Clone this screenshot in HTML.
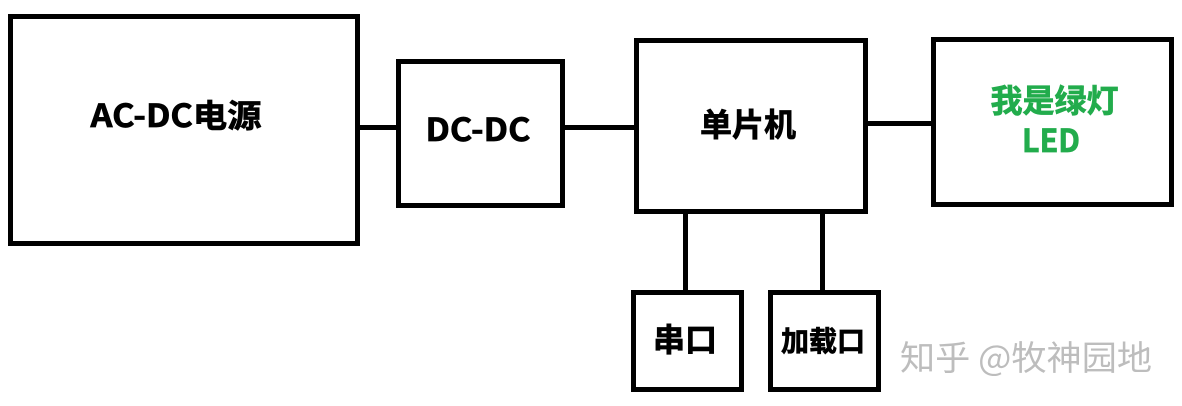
<!DOCTYPE html>
<html>
<head>
<meta charset="utf-8">
<style>
html,body{margin:0;padding:0;background:#fff;}
body{width:1182px;height:406px;overflow:hidden;position:relative;}
svg{display:block;position:absolute;left:0;top:0;}
text{font-family:"Noto Sans CJK SC","Liberation Sans",sans-serif;font-weight:700;text-anchor:middle;}
.h{stroke-width:0.7px;}
</style>
</head>
<body>
<svg width="1182" height="406" viewBox="0 0 1182 406" xmlns="http://www.w3.org/2000/svg">
<g fill="#fff" stroke="#000" stroke-width="5">
<rect x="10.5" y="16.5" width="347" height="227"/>
<rect x="398.5" y="61.5" width="164" height="144"/>
<rect x="636.5" y="40.5" width="229" height="171"/>
<rect x="933.5" y="39.5" width="238" height="165"/>
<rect x="633.5" y="292.5" width="108" height="97"/>
<rect x="770.5" y="292.5" width="108" height="97"/>
</g>
<g stroke="#000" stroke-width="5" fill="none">
<line x1="360" y1="127.5" x2="396" y2="127.5"/>
<line x1="565" y1="127.5" x2="634" y2="127.5"/>
<line x1="868" y1="123.5" x2="931" y2="123.5"/>
<line x1="685.5" y1="214" x2="685.5" y2="290"/>
<line x1="822.5" y1="214" x2="822.5" y2="290"/>
</g>
<text class="h" stroke="#000" x="176" y="127" font-size="32" fill="#000" textLength="171" lengthAdjust="spacingAndGlyphs">AC-DC电源</text>
<text class="h" stroke="#000" x="478" y="141" font-size="32" fill="#000" textLength="105" lengthAdjust="spacingAndGlyphs">DC-DC</text>
<text class="h" stroke="#000" x="748" y="136" font-size="32" fill="#000">单片机</text>
<text class="h" stroke="#22ac4c" x="1054.5" y="112" font-size="32" fill="#22ac4c">我是绿灯</text>
<text class="h" stroke="#22ac4c" x="1051" y="152" font-size="32" fill="#22ac4c" textLength="58" lengthAdjust="spacingAndGlyphs">LED</text>
<text class="h" stroke="#000" x="685" y="351" font-size="32" fill="#000">串口</text>
<text class="h" stroke="#000" x="823" y="351" font-size="28" fill="#000">加载口</text>
<text x="1026" y="370" font-size="34" fill="#bdbdbd" style="font-weight:400" textLength="252" lengthAdjust="spacingAndGlyphs">知乎 @牧神园地</text>
</svg>
</body>
</html>
